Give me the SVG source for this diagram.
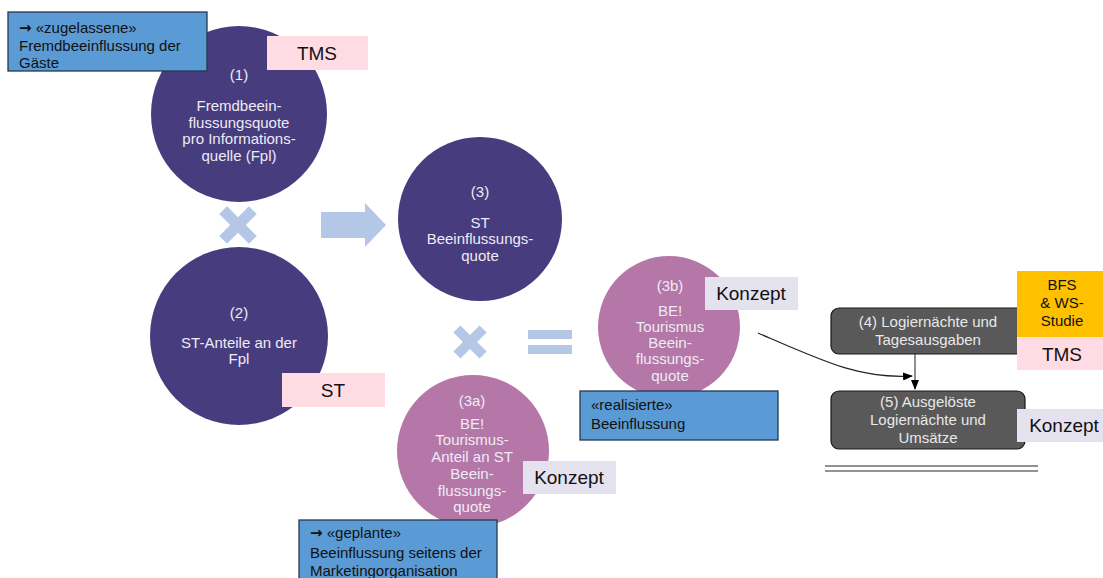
<svg xmlns="http://www.w3.org/2000/svg" width="1103" height="578" viewBox="0 0 1103 578">
<style>
text{font-family:"Liberation Sans",Arial,sans-serif;}
.ct{font-size:15px;fill:#EEEBF5;text-anchor:middle;}
.bt{font-size:15px;fill:#111;}
.arr{font-family:"DejaVu Sans",sans-serif;font-weight:bold;font-size:15px;}
.lab{font-size:19px;fill:#111;text-anchor:middle;}
.gt{font-size:15px;fill:#E8E8E8;text-anchor:middle;}
.purple{fill:#463C7E;}
.rose{fill:#B477A7;}
.blue{fill:#5B9BD5;stroke:#26394D;stroke-width:1.3;}
.pink{fill:#FFDCE4;}
.lav{fill:#E5E2F0;}
.sym{fill:#B4C7E7;}
.gbox{fill:#595959;stroke:#1A1A1A;stroke-width:1.2;}
</style>
<defs>
<marker id="ah" markerWidth="10" markerHeight="8" refX="9" refY="4" orient="auto" markerUnits="userSpaceOnUse">
<path d="M0,0 L10,4 L0,8 Z" fill="#000"/>
</marker>
</defs>
<rect width="1103" height="578" fill="#fff"/>

<g id="symbols">
<g transform="translate(238,225) rotate(45)"><rect class="sym" x="-21" y="-5.5" width="42" height="11"/><rect class="sym" x="-5.5" y="-21" width="11" height="42"/></g>
<polygon class="sym" points="321,212 365,212 365,203 386,225 365,247 365,238 321,238"/>
<g transform="translate(470,342) rotate(45)"><rect class="sym" x="-18.5" y="-5" width="37" height="10"/><rect class="sym" x="-5" y="-18.5" width="10" height="37"/></g>
<rect class="sym" x="528" y="330" width="44" height="9"/>
<rect class="sym" x="528" y="345" width="44" height="9"/>
</g>

<g id="node1">
<circle class="purple" cx="239" cy="114" r="88"/>
<text class="ct" x="239" y="80">(1)</text>
<text class="ct" x="239" y="111">Fremdbeein-</text>
<text class="ct" x="239" y="127.5">flussungsquote</text>
<text class="ct" x="239" y="144">pro Informations-</text>
<text class="ct" x="239" y="160.5">quelle (Fpl)</text>
</g>

<g id="node2">
<circle class="purple" cx="239" cy="336" r="89"/>
<text class="ct" x="239" y="318">(2)</text>
<text class="ct" x="239" y="348">ST-Anteile an der</text>
<text class="ct" x="239" y="364">Fpl</text>
</g>

<g id="node3">
<circle class="purple" cx="480" cy="219" r="82"/>
<text class="ct" x="480" y="197">(3)</text>
<text class="ct" x="480" y="228">ST</text>
<text class="ct" x="480" y="244">Beeinflussungs-</text>
<text class="ct" x="480" y="261">quote</text>
</g>

<g id="node3b">
<circle class="rose" cx="669" cy="327" r="71"/>
<text class="ct" x="670" y="291">(3b)</text>
<text class="ct" x="670" y="316">BE!</text>
<text class="ct" x="670" y="332">Tourismus</text>
<text class="ct" x="670" y="348">Beein-</text>
<text class="ct" x="670" y="364">flussungs-</text>
<text class="ct" x="670" y="381">quote</text>
</g>

<g id="node3a">
<circle class="rose" cx="473" cy="451" r="76"/>
<text class="ct" x="472" y="406">(3a)</text>
<text class="ct" x="472" y="429">BE!</text>
<text class="ct" x="472" y="445">Tourismus-</text>
<text class="ct" x="472" y="462">Anteil an ST</text>
<text class="ct" x="472" y="479">Beein-</text>
<text class="ct" x="472" y="496">flussungs-</text>
<text class="ct" x="472" y="512">quote</text>
</g>

<g id="box-zugelassene">
<rect class="blue" x="8" y="12" width="199" height="59"/>
<text class="bt" x="19" y="33"><tspan class="arr">→</tspan> «zugelassene»</text>
<text class="bt" x="19" y="50.5">Fremdbeeinflussung der</text>
<text class="bt" x="19" y="68">Gäste</text>
</g>

<g id="label-tms1">
<rect class="pink" x="267" y="36" width="101" height="34"/>
<text class="lab" x="317" y="60">TMS</text>
</g>

<g id="label-st">
<rect class="pink" x="282" y="373" width="103" height="34"/>
<text class="lab" x="333" y="397">ST</text>
</g>

<g id="label-konzept-3b">
<rect class="lav" x="705" y="277" width="93" height="33"/>
<text class="lab" x="751" y="300">Konzept</text>
</g>

<g id="label-konzept-3a">
<rect class="lav" x="523" y="461" width="93" height="33"/>
<text class="lab" x="569" y="484">Konzept</text>
</g>

<g id="box-realisierte">
<rect class="blue" x="580" y="391" width="198" height="49"/>
<text class="bt" x="591" y="410">«realisierte»</text>
<text class="bt" x="591" y="429">Beeinflussung</text>
</g>

<g id="box-geplante">
<rect class="blue" x="299" y="520" width="198" height="62"/>
<text class="bt" x="310" y="538"><tspan class="arr">→</tspan> «geplante»</text>
<text class="bt" x="310" y="558">Beeinflussung seitens der</text>
<text class="bt" x="310" y="576">Marketingorganisation</text>
</g>

<g id="connectors">
<path d="M758,333 C825,362 860,379 912,376" fill="none" stroke="#222" stroke-width="1.2" marker-end="url(#ah)"/>
<path d="M915,354 L915,389" fill="none" stroke="#444" stroke-width="1.2" marker-end="url(#ah)"/>
</g>

<g id="node4">
<rect class="gbox" x="831" y="308" width="194" height="46" rx="8"/>
<text class="gt" x="928" y="327">(4) Logiernächte und</text>
<text class="gt" x="928" y="345">Tagesausgaben</text>
</g>

<g id="node5">
<rect class="gbox" x="831" y="391" width="194" height="58" rx="8"/>
<text class="gt" x="928" y="407">(5) Ausgelöste</text>
<text class="gt" x="928" y="425">Logiernächte und</text>
<text class="gt" x="928" y="443">Umsätze</text>
</g>

<g id="label-bfs">
<rect x="1017" y="271" width="86" height="66" fill="#FFC000"/>
<text x="1062" y="290" font-size="15" fill="#111" text-anchor="middle">BFS</text>
<text x="1062" y="308" font-size="15" fill="#111" text-anchor="middle">&amp; WS-</text>
<text x="1062" y="326" font-size="15" fill="#111" text-anchor="middle">Studie</text>
</g>

<g id="label-tms2">
<rect class="pink" x="1017" y="337" width="86" height="33"/>
<text class="lab" x="1062" y="361">TMS</text>
</g>

<g id="label-konzept-5">
<rect class="lav" x="1017" y="409" width="86" height="33"/>
<text class="lab" x="1064" y="432">Konzept</text>
</g>

<g id="double-line">
<line x1="825" y1="466" x2="1038" y2="466" stroke="#6E6E6E" stroke-width="1.5"/>
<line x1="825" y1="471" x2="1038" y2="471" stroke="#6E6E6E" stroke-width="1.5"/>
</g>
</svg>
